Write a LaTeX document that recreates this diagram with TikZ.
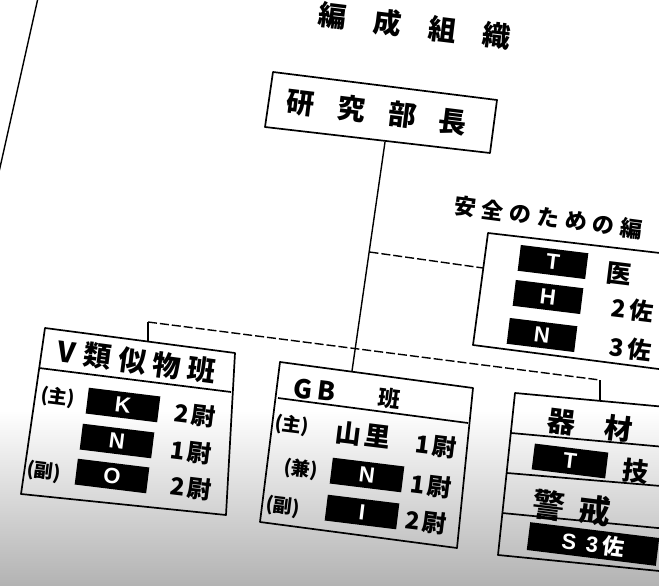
\documentclass[tikz,border=0pt]{standalone}
\usepackage{fontspec}
\setmainfont{Noto Sans CJK JP}
\newfontfamily\barfont{Liberation Sans}
\newcommand\fsz[1]{\fontsize{#1}{#1}\selectfont}
\begin{document}
\begin{tikzpicture}[x=1pt,y=-1pt,
  box/.style={draw, line width=1.7pt, line join=round},
  conn/.style={line width=1.4pt},
  dconn/.style={line width=1.4pt, dash pattern=on 9pt off 3pt},
  bar/.style={fill=black, text=white, font={\barfont\bfseries\fsz{22}}, minimum width=72pt, minimum height=26pt, inner sep=0pt, rotate=-7},
  jp/.style={inner sep=0pt, rotate=-7},
  paren/.style={inner sep=0pt, rotate=-7, font={\fsz{19}\bfseries}}]
\useasboundingbox (0,0) rectangle (659,586);
\clip (0,0) rectangle (659,586);
\fill[white] (0,0) rectangle (659,586);

% scanner noise: grey fading in towards the bottom
\shade[top color=white, bottom color=black!30] (0,410) rectangle (659,586);

% stray margin line
\coordinate (m1) at (38,-2); \coordinate (m2) at (-1,172);
\draw[conn] (m1) -- (m2);

% title
\node[jp, font=\fsz{28}\bfseries] (title) at (415,26) {編\hspace{27pt}成\hspace{27pt}組\hspace{27pt}織};

% head box
\coordinate (hqTL) at (273,72); \coordinate (hqTR) at (497,100);
\coordinate (hqBR) at (490,153); \coordinate (hqBL) at (265,127);
\draw[box] (hqTL) -- (hqTR) -- (hqBR) -- (hqBL) -- cycle;
\node[jp, font=\fsz{28}\bfseries] (hq) at (377,112) {研\hspace{23pt}究\hspace{23pt}部\hspace{23pt}長};

% safety box
\coordinate (sTL) at (488,233); \coordinate (sTR) at (720,260);
\coordinate (sBR) at (705,375); \coordinate (sBL) at (473,345);
\draw[box] (sTL) -- (sTR) -- (sBR) -- (sBL) -- cycle;
\node[jp, font=\fsz{22}\bfseries, anchor=west, rotate=-0.5] (saftitle) at (454,205) {安\hspace{6pt}全\hspace{6pt}の\hspace{6pt}た\hspace{6pt}め\hspace{6pt}の\hspace{6pt}編};
\node[bar, minimum width=68pt] (sT) at (553,262) {T};
\node[bar, minimum width=68pt] (sH) at (548,297) {H};
\node[bar, minimum width=68pt] (sN) at (542,335) {N};
\node[jp, font=\fsz{25}\bfseries, anchor=west] (sTr) at (606,273) {医};
\node[jp, font=\fsz{24}\bfseries, anchor=west] (sHr) at (611,307) {2\hspace{4pt}佐};
\node[jp, font=\fsz{24}\bfseries, anchor=west] (sNr) at (609,346) {3\hspace{4pt}佐};

% V box
\coordinate (vTL) at (45,328); \coordinate (vTR) at (235,353);
\coordinate (vBR) at (226,515); \coordinate (vBL) at (21,494);
\coordinate (vHL) at (39,368); \coordinate (vHR) at (231,392);
\draw[box] (vTL) -- (vTR) -- (vBR) -- (vBL) -- cycle;
\draw[box] (vHL) -- (vHR);
\node[jp, font=\fsz{28}\bfseries, anchor=west, rotate=-0.5] (vhead) at (58,351) {V\hspace{8pt}類\hspace{7pt}似\hspace{7pt}物\hspace{7pt}班};
\node[paren] (vz) at (58,397) {(主)};
\node[bar] (vK) at (123,405) {K};
\node[bar] (vN) at (117,441) {N};
\node[bar] (vO) at (112,476) {O};
\node[paren] (vf) at (44,472) {(副)};
\node[jp, font=\fsz{24}\bfseries] (vKr) at (195,415) {2\hspace{3pt}尉};
\node[jp, font=\fsz{24}\bfseries] (vNr) at (191,452) {1\hspace{3pt}尉};
\node[jp, font=\fsz{24}\bfseries] (vOr) at (191,488) {2\hspace{3pt}尉};

% GB box
\coordinate (gTL) at (280,362); \coordinate (gTR) at (473,388);
\coordinate (gBR) at (457,548); \coordinate (gBL) at (260,522);
\coordinate (gHL) at (278,398); \coordinate (gHR) at (468,423);
\draw[box] (gTL) -- (gTR) -- (gBR) -- (gBL) -- cycle;
\draw[box] (gHL) -- (gHR);
\node[jp, font=\fsz{26}\bfseries] (ghead) at (315,390) {G\hspace{5pt}B};
\node[jp, font=\fsz{22}\bfseries] (ghead2) at (389,399) {班};
\node[paren] (gz) at (292,425) {(主)};
\node[jp, font=\fsz{26}\bfseries] (gname) at (363,435) {山\hspace{3pt}里};
\node[jp, font=\fsz{24}\bfseries] (gzr) at (436,446) {1\hspace{3pt}尉};
\node[paren] (gk) at (301,469) {(兼)};
\node[bar] (gN) at (367,475) {N};
\node[jp, font=\fsz{24}\bfseries] (gNr) at (431,486) {1\hspace{3pt}尉};
\node[paren] (gf) at (283,507) {(副)};
\node[bar] (gI) at (362,512) {I};
\node[jp, font=\fsz{24}\bfseries] (gIr) at (426,522) {2\hspace{3pt}尉};

% third box
\coordinate (tTL) at (515,393); \coordinate (tTR) at (720,412);
\coordinate (tBL) at (498,555); \coordinate (tBR) at (720,577);
\coordinate (tL1) at (511,433); \coordinate (tR1) at (720,452);
\coordinate (tL2) at (507,473); \coordinate (tR2) at (720,491);
\coordinate (tL3) at (502,513); \coordinate (tR3) at (720,534);
\draw[box] (tTR) -- (tTL) -- (tBL) -- (tBR);
\draw[box] (tL1) -- (tR1);
\draw[box] (tL2) -- (tR2);
\draw[box] (tL3) -- (tR3);
\node[jp, font=\fsz{28}\bfseries] (kizai) at (590,425) {器\hspace{29pt}材};
\node[bar, minimum width=74pt] (tT) at (570,461) {T};
\node[jp, font=\fsz{26}\bfseries] (tTr) at (636,471) {技};
\node[jp, font=\fsz{32}\bfseries] (keikai) at (572,508) {警\hspace{14pt}戒};
\node[bar, minimum width=130pt, minimum height=28pt] (tS) at (593,544) {S\hspace{10pt}3\hspace{4pt}{\rmfamily\bfseries 佐}};

% connectors
\coordinate (hqB) at (385,142);
\coordinate (gT) at (352,371);
\coordinate (jS) at (369.5,252);
\coordinate (sW) at (483,268);
\coordinate (dL) at (148,322);
\coordinate (dR) at (600,380);
\coordinate (vT) at (148,341.5);
\coordinate (tT0) at (600,399.5);
\draw[conn] (hqB) -- (gT);
\draw[dconn] (jS) -- (sW);
\draw[dconn] (dL) -- (dR);
\draw[conn] (dL) -- (vT);
\draw[conn] (dR) -- (tT0);
\end{tikzpicture}
\end{document}
